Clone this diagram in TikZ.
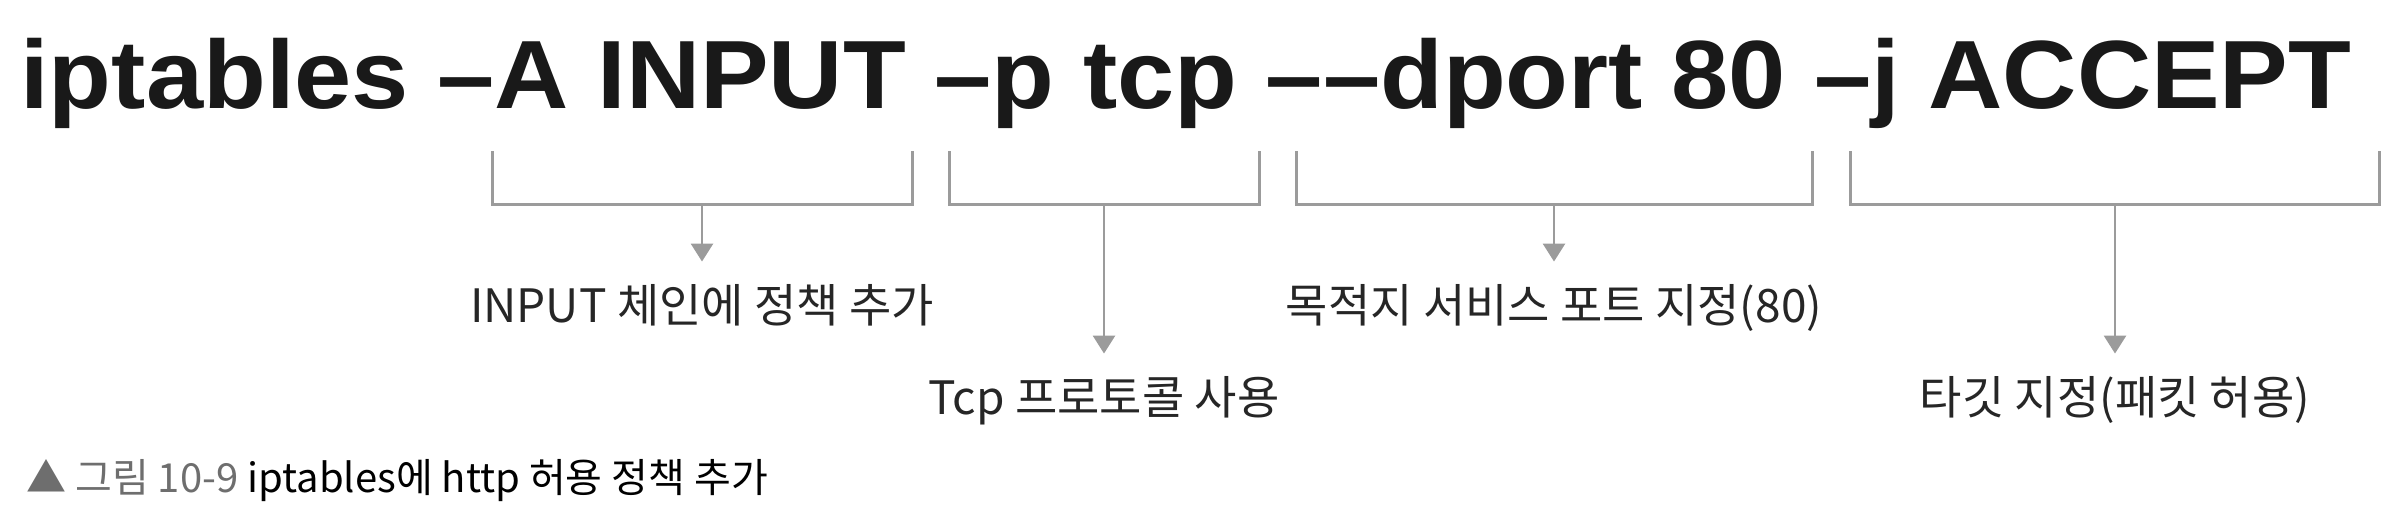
\documentclass[tikz,border=0pt]{standalone}
\usepackage{fontspec}
\setmainfont{Noto Sans CJK KR}
\newfontfamily\cmdfont{Liberation Sans}[FakeStretch=1.06]
\newfontfamily\lblfont{Noto Sans CJK KR}
\usetikzlibrary{arrows.meta}
\usepackage{xcolor}
\definecolor{linegray}{HTML}{9B9B9B}
\definecolor{capgray}{HTML}{6E6E6E}

\tikzset{
  bracket/.style={draw=linegray, line width=1.5pt},
  pointer/.style={draw=linegray, line width=1.4pt,
    -{Triangle[width=11pt,length=9pt]}, shorten >=11pt},
  lbl/.style={font=\lblfont\fontsize{23}{28}\selectfont,
    text=black!85, inner sep=0pt, anchor=base},
}

\begin{document}
\begin{tikzpicture}[x=0.5pt,y=-0.5pt]

\useasboundingbox (0,0) rectangle (2404,530);

% Command line
\node[anchor=base west, inner sep=0pt, text=black!90,
      font=\cmdfont\bfseries\fontsize{48.5}{58}\selectfont] (cmd) at (20,108)
  {iptables –A INPUT –p tcp ––dport 80 –j ACCEPT};

% Brackets under the options
\draw[bracket] (492,151) |- (912,204) -- (912,151);
\draw[bracket] (949,151) |- (1259,204) -- (1259,151);
\draw[bracket] (1296,151) |- (1812,204) -- (1812,151);
\draw[bracket] (1850,151) |- (2379,204) -- (2379,151);

\coordinate (b1) at (702,204);
\coordinate (b2) at (1104,204);
\coordinate (b3) at (1554,204);
\coordinate (b4) at (2115,204);

% Labels
\node[lbl] (l1) at (702,322) {INPUT 체인에 정책 추가};
\node[lbl] (l2) at (1104,414) {Tcp 프로토콜 사용};
\node[lbl] (l3) at (1554,322) {목적지 서비스 포트 지정(80)};
\node[lbl] (l4) at (2115,414) {타깃 지정(패킷 허용)};

% Arrows
\draw[pointer] (b1) -- (l1.north);
\draw[pointer] (b2) -- (l2.north);
\draw[pointer] (b3) -- (l3.north);
\draw[pointer] (b4) -- (l4.north);

% Caption
\node[anchor=base west, inner sep=0pt, font=\fontsize{20}{24}\selectfont]
  (cap) at (26,492)
  {\textcolor{capgray}{▲ 그림 10-9} iptables에 http 허용 정책 추가};

\end{tikzpicture}
\end{document}
